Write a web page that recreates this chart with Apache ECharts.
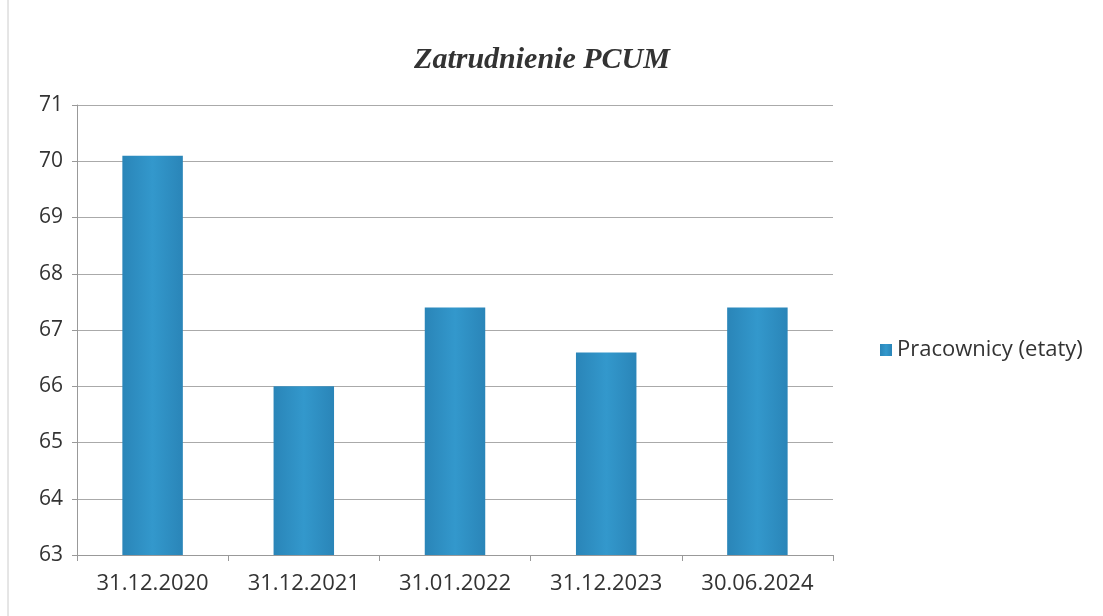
<!DOCTYPE html>
<html lang='en'>
<head>
  <meta charset='UTF-8'>
  <title>Zatrudnienie PCUM</title>
  <script src="https://cdn.jsdelivr.net/npm/echarts@6/dist/echarts.min.js"></script>
  <style>
    html, body { margin: 0; padding: 0; background: #fff; }
  </style>
</head>
<body>
<div id="main" style="width: 1103px; height:616px;"></div>
<script>
  const categories = ['31.12.2020', '31.12.2021', '31.01.2022', '31.12.2023', '30.06.2024']
  const pracownicy = [70.1, 66.0, 67.4, 66.6, 67.4]
  const seriesName = 'Pracownicy (etaty)'

  var myChart = echarts.init(document.getElementById('main'));
  var option = {
    backgroundColor: '#fff',
    animation: false,
    title: {
      text: 'Zatrudnienie PCUM',
      left: 537,
      top: 40,
      textAlign: 'center',
      textStyle: {
        fontFamily: 'Liberation Serif',
        fontStyle: 'italic',
        fontWeight: 'bold',
        fontSize: 30,
        color: '#333'
      }
    },
    legend: {
      data: [seriesName],
      left: 875,
      top: 334,
      itemWidth: 12,
      itemHeight: 12,
      itemGap: 6,
      icon: 'rect',
      textStyle: { fontFamily: 'Open Sans', fontSize: 22, color: '#333' }
    },
    grid: { left: 77, right: 270, top: 105, bottom: 61 },
    xAxis: {
      type: 'category',
      data: categories,
      axisLine: { lineStyle: { color: '#999' } },
      axisTick: { show: true, length: 6, lineStyle: { color: '#999' } },
      axisLabel: { fontFamily: 'Open Sans', fontSize: 22, color: '#333', margin: 18 }
    },
    yAxis: {
      type: 'value',
      min: 63,
      max: 71,
      interval: 1,
      axisLine: { show: true, lineStyle: { color: '#999' } },
      axisTick: { show: true, length: 5, lineStyle: { color: '#999' } },
      axisLabel: { fontFamily: 'Open Sans', fontSize: 21, color: '#333', margin: 14 },
      splitLine: { lineStyle: { color: '#aaa', width: 1 } }
    },
    graphic: [{
      type: 'line',
      shape: { x1: 8, y1: 0, x2: 8, y2: 616 },
      style: { stroke: '#ccc', lineWidth: 1 }
    }],
    series: [{
      name: seriesName,
      type: 'bar',
      data: pracownicy,
      barWidth: '40%',
      itemStyle: {
        color: new echarts.graphic.LinearGradient(0, 0, 1, 0, [
          { offset: 0, color: '#2a85b8' },
          { offset: 0.5, color: '#3398cc' },
          { offset: 1, color: '#2a85b8' }
        ])
      }
    }]
  };
  myChart.setOption(option);
</script>
</body>
</html>
